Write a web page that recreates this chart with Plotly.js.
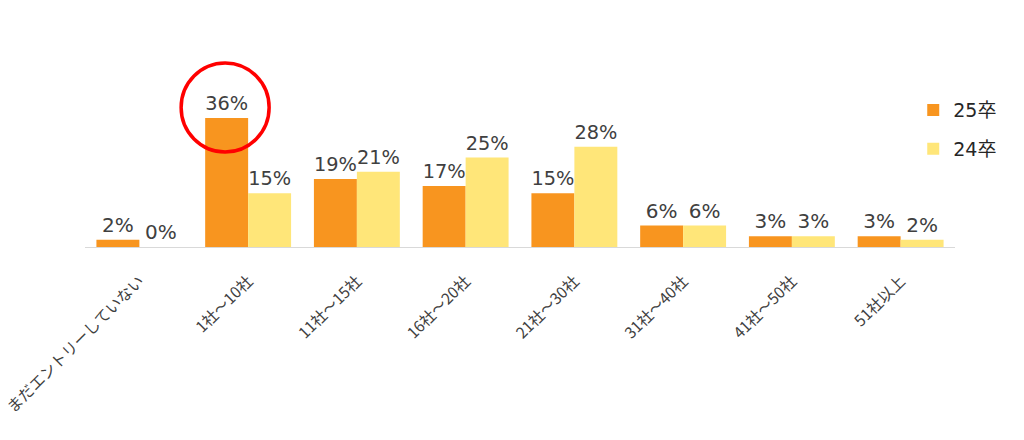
<!DOCTYPE html>
<html>
<head>
<meta charset="utf-8">
<script src="https://cdn.plot.ly/plotly-3.0.1.min.js"></script>
<style>html,body{margin:0;padding:0;background:#fff;}#chart{width:1024px;height:440px;}</style>
</head>
<body>
<div id="chart"></div>
<script>
const categories = ["まだエントリーしていない", "1社〜10社", "11社〜15社", "16社〜20社", "21社〜30社", "31社〜40社", "41社〜50社", "51社以上"];
const series25 = [2, 36, 19, 17, 15, 6, 3, 3];
const series24 = [0, 15, 21, 25, 28, 6, 3, 2];
const seriesNames = ["25卒", "24卒"];

const FONT = "DejaVu Sans, Noto Sans CJK JP, sans-serif";
const JFONT = "Noto Sans CJK JP, sans-serif";
const TEXTCOL = "#404040";

const traces = [
  {
    type: "bar", name: seriesNames[0], x: categories, y: series25,
    marker: {color: "#F8951F"},
    texttemplate: "%{y}%", textposition: "outside", cliponaxis: false,
    textfont: {family: FONT, size: 20, color: TEXTCOL},
    legendgroup: "a", hoverinfo: "none"
  },
  {
    type: "bar", name: seriesNames[1], x: categories, y: series24,
    marker: {color: "#FFE679"},
    texttemplate: "%{y}%", textposition: "outside", cliponaxis: false,
    textfont: {family: FONT, size: 20, color: TEXTCOL},
    legendgroup: "b", hoverinfo: "none"
  }
];

const layout = {
  width: 1024, height: 440,
  margin: {l: 85, r: 69, t: 32, b: 193},
  paper_bgcolor: "#fff", plot_bgcolor: "#fff",
  font: {family: FONT, color: TEXTCOL},
  barmode: "group", bargap: 0.21, bargroupgap: 0,
  showlegend: true,
  legend: {
    x: 0.952, xanchor: "left", y: 0.725, yanchor: "top",
    font: {family: FONT, size: 19, color: "#262626"},
    traceorder: "grouped", tracegroupgap: 11,
    bgcolor: "rgba(0,0,0,0)"
  },
  xaxis: {
    type: "category", showline: true, linecolor: "#d9d9d9", linewidth: 1,
    ticks: "", tickangle: -45, showgrid: false, zeroline: false,
    ticklabelstandoff: 18,
    tickfont: {family: JFONT, size: 15.5, color: TEXTCOL}
  },
  yaxis: {range: [0, 60], visible: false, showgrid: false, zeroline: false},
  shapes: [{
    type: "circle", xref: "x", yref: "y",
    xsizemode: "pixel", ysizemode: "pixel",
    xanchor: 1, yanchor: 36,
    x0: -67, x1: 21, y0: -34, y1: 55,
    line: {color: "#FF0000", width: 3.5}, fillcolor: "rgba(0,0,0,0)"
  }]
};

Plotly.newPlot("chart", traces, layout, {staticPlot: true});
</script>
</body>
</html>
